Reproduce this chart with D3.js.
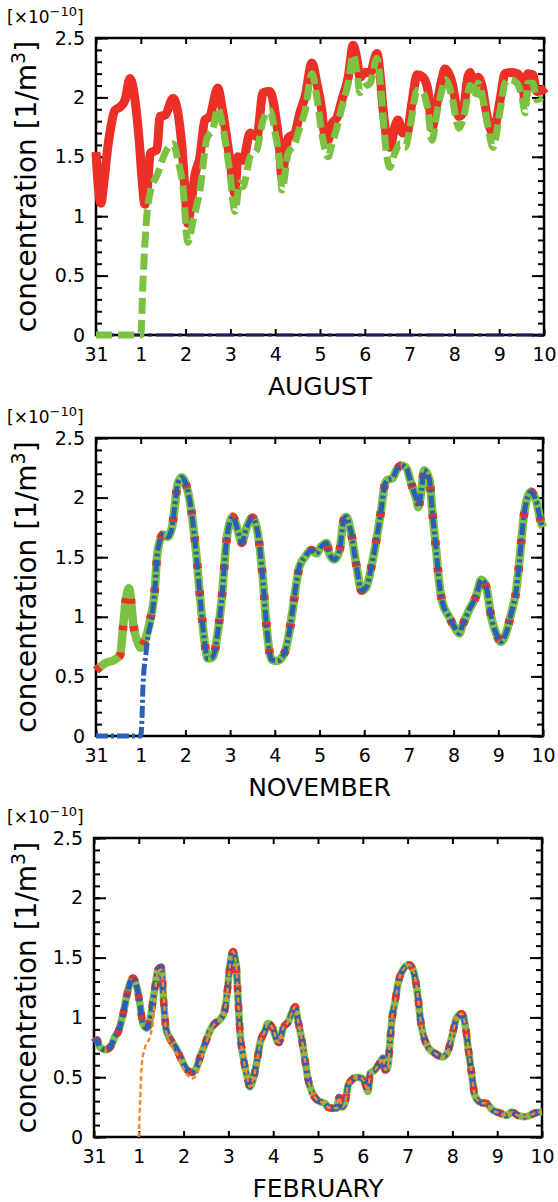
<!DOCTYPE html>
<html lang="en">
  <head>
    <meta charset="utf-8" />
    <title>Concentration</title>
    <style>
      body {
        margin: 0;
        background: #fff;
        font-family: 'DejaVu Sans', sans-serif;
      }
      svg {
        display: block;
      }
    </style>
  </head>
  <body>
    <div class="container"></div>
    <script src="https://cdn.jsdelivr.net/npm/d3@7"></script>
    <script>
      // day offset from the 31st (0) to the 10th (10), value in 1e-10 /m3
      const dayLabels = ['31', '1', '2', '3', '4', '5', '6', '7', '8', '9', '10'];
      const yMajor = [0, 0.5, 1, 1.5, 2, 2.5];
      const months = ['AUGUST', 'NOVEMBER', 'FEBRUARY'];

      const augRed = [
        [0, 1.54], [0.04, 1.3], [0.11, 1.11], [0.18, 1.3], [0.27, 1.6], [0.31, 1.7], [0.42, 1.89],
        [0.54, 1.92], [0.65, 1.98], [0.76, 2.16], [0.87, 1.98], [0.98, 1.56], [1.03, 1.3],
        [1.09, 1.1], [1.16, 1.3], [1.21, 1.53], [1.36, 1.56], [1.43, 1.84], [1.54, 1.85],
        [1.72, 1.99], [1.92, 1.58], [1.99, 1.2], [2.05, 0.94], [2.12, 1.1], [2.21, 1.35],
        [2.32, 1.5], [2.43, 1.81], [2.54, 1.84], [2.72, 2.08], [2.81, 1.92], [2.99, 1.47],
        [3.1, 1.19], [3.17, 1.5], [3.28, 1.47], [3.44, 1.7], [3.59, 1.67], [3.73, 2.04],
        [3.88, 2.05], [4.0, 1.87], [4.09, 1.6], [4.15, 1.32], [4.22, 1.5], [4.29, 1.66],
        [4.44, 1.7], [4.55, 1.87], [4.67, 2.01], [4.82, 2.29], [4.93, 2.12], [5.04, 1.89],
        [5.11, 1.67], [5.18, 1.64], [5.27, 1.78], [5.38, 1.83], [5.49, 1.98], [5.63, 2.17],
        [5.74, 2.44], [5.83, 2.31], [5.89, 2.17], [6.0, 2.21], [6.12, 2.21], [6.27, 2.37],
        [6.34, 2.2], [6.41, 1.89], [6.5, 1.64], [6.56, 1.58], [6.67, 1.75], [6.74, 1.81],
        [6.85, 1.7], [6.94, 1.7], [7.05, 1.95], [7.17, 2.19], [7.3, 2.17], [7.41, 2.06],
        [7.5, 1.74], [7.61, 1.95], [7.72, 2.15], [7.79, 2.24], [7.95, 2.12], [8.06, 1.89],
        [8.1, 1.84], [8.19, 1.87], [8.3, 2.17], [8.35, 2.21], [8.42, 2.09], [8.53, 2.17],
        [8.62, 2.09], [8.73, 1.84], [8.86, 1.7], [9.02, 1.98], [9.13, 2.2], [9.24, 2.21],
        [9.4, 2.2], [9.51, 2.13], [9.58, 1.98], [9.64, 2.2], [9.75, 2.19], [9.84, 2.05],
        [9.96, 2.06], [10.04, 2.08],
      ];
      const augGreen = [
        [0, 0], [1.0, 0], [1.05, 0.46], [1.14, 1.03], [1.21, 1.2], [1.38, 1.36], [1.54, 1.53],
        [1.72, 1.61], [1.83, 1.47], [1.94, 1.25], [2.05, 0.78], [2.17, 0.97], [2.32, 1.22],
        [2.48, 1.66], [2.61, 1.73], [2.72, 1.91], [2.83, 1.75], [2.99, 1.36], [3.1, 1.04],
        [3.21, 1.28], [3.28, 1.25], [3.44, 1.5], [3.59, 1.56], [3.73, 1.81], [3.88, 1.89],
        [4.0, 1.7], [4.11, 1.41], [4.15, 1.22], [4.29, 1.53], [4.44, 1.61], [4.55, 1.75],
        [4.67, 1.89], [4.82, 2.2], [4.93, 2.0], [5.04, 1.7], [5.18, 1.5], [5.27, 1.61],
        [5.38, 1.75], [5.49, 1.92], [5.63, 2.12], [5.74, 2.36], [5.83, 2.2], [5.89, 2.04],
        [6.0, 2.09], [6.12, 2.12], [6.27, 2.33], [6.38, 1.98], [6.45, 1.64], [6.56, 1.41],
        [6.67, 1.53], [6.79, 1.61], [6.9, 1.58], [7.01, 1.75], [7.17, 2.06], [7.3, 2.04],
        [7.41, 1.89], [7.5, 1.64], [7.61, 1.87], [7.72, 2.06], [7.79, 2.15], [7.95, 2.0],
        [8.06, 1.78], [8.1, 1.74], [8.24, 1.89], [8.35, 2.1], [8.46, 2.0], [8.53, 2.12],
        [8.64, 1.98], [8.75, 1.75], [8.86, 1.58], [9.02, 1.89], [9.13, 2.12], [9.24, 2.15],
        [9.4, 2.12], [9.51, 2.0], [9.58, 1.87], [9.64, 2.12], [9.75, 2.12], [9.84, 1.98],
        [9.96, 2.0],
      ];
      const augNavy = [[0, 0], [10, 0]];

      const novMain = [
        [0, 0.55], [0.2, 0.61], [0.42, 0.64], [0.54, 0.68], [0.6, 0.89], [0.67, 1.15],
        [0.74, 1.24], [0.78, 1.15], [0.83, 0.95], [0.92, 0.8], [1.0, 0.74], [1.09, 0.8],
        [1.21, 0.97], [1.32, 1.25], [1.36, 1.48], [1.43, 1.64], [1.5, 1.69], [1.61, 1.67],
        [1.7, 1.75], [1.76, 1.92], [1.83, 2.12], [1.92, 2.17], [2.03, 2.09], [2.14, 1.87],
        [2.25, 1.5], [2.32, 1.2], [2.41, 0.85], [2.5, 0.65], [2.61, 0.66], [2.72, 0.86],
        [2.81, 1.14], [2.92, 1.64], [2.99, 1.79], [3.06, 1.84], [3.17, 1.73], [3.26, 1.62],
        [3.37, 1.75], [3.5, 1.83], [3.62, 1.7], [3.73, 1.33], [3.82, 0.9], [3.93, 0.64],
        [4.06, 0.63], [4.22, 0.7], [4.29, 0.8], [4.4, 1.06], [4.49, 1.3], [4.55, 1.42],
        [4.67, 1.5], [4.82, 1.56], [4.93, 1.53], [5.04, 1.59], [5.16, 1.62], [5.22, 1.53],
        [5.33, 1.48], [5.45, 1.56], [5.54, 1.81], [5.6, 1.84], [5.71, 1.7], [5.83, 1.42],
        [5.94, 1.22], [6.05, 1.25], [6.16, 1.42], [6.27, 1.64], [6.38, 1.9], [6.45, 2.09],
        [6.52, 2.15], [6.63, 2.16], [6.72, 2.23], [6.83, 2.27], [6.94, 2.25], [7.05, 2.12],
        [7.17, 1.98], [7.21, 1.92], [7.28, 2.06], [7.34, 2.23], [7.46, 2.15], [7.52, 1.9],
        [7.61, 1.56], [7.68, 1.28], [7.75, 1.12], [7.9, 1.0], [8.01, 0.92], [8.13, 0.86],
        [8.19, 0.92], [8.35, 1.06], [8.5, 1.17], [8.62, 1.31], [8.73, 1.25], [8.84, 1.0],
        [8.95, 0.86], [9.06, 0.79], [9.17, 0.86], [9.29, 1.03], [9.4, 1.22], [9.46, 1.42],
        [9.58, 1.87], [9.73, 2.05], [9.84, 1.98], [9.96, 1.79], [10.0, 1.75],
      ];
      const novBlueStart = [
        [0, 0], [1.0, 0], [1.03, 0.16], [1.05, 0.41], [1.12, 0.7], [1.16, 0.83], [1.25, 1.0],
      ];

      const febMain = [
        [0, 0.79], [0.07, 0.81], [0.13, 0.75], [0.25, 0.73], [0.36, 0.75], [0.47, 0.84],
        [0.54, 0.88], [0.65, 1.03], [0.76, 1.23], [0.87, 1.33], [0.96, 1.25], [1.03, 1.1],
        [1.09, 0.95], [1.18, 0.91], [1.25, 0.98], [1.32, 1.15], [1.36, 1.25], [1.43, 1.4],
        [1.5, 1.42], [1.56, 1.1], [1.61, 0.9], [1.7, 0.82], [1.85, 0.73], [1.96, 0.64],
        [2.08, 0.56], [2.19, 0.54], [2.3, 0.59], [2.37, 0.67], [2.48, 0.78], [2.59, 0.89],
        [2.7, 0.95], [2.81, 0.98], [2.92, 1.06], [2.97, 1.2], [3.04, 1.45], [3.1, 1.55],
        [3.17, 1.45], [3.21, 1.2], [3.26, 0.87], [3.33, 0.67], [3.42, 0.5], [3.48, 0.42],
        [3.55, 0.48], [3.64, 0.64], [3.71, 0.79], [3.82, 0.89], [3.88, 0.95], [4.0, 0.9],
        [4.08, 0.81], [4.13, 0.79], [4.22, 0.91], [4.33, 0.96], [4.44, 1.06], [4.49, 1.09],
        [4.55, 0.98], [4.64, 0.81], [4.71, 0.64], [4.78, 0.48], [4.87, 0.37], [4.98, 0.31],
        [5.09, 0.29], [5.16, 0.28], [5.22, 0.25], [5.33, 0.24], [5.42, 0.24], [5.47, 0.33],
        [5.54, 0.25], [5.6, 0.28], [5.67, 0.43], [5.76, 0.48], [5.87, 0.5], [5.98, 0.49],
        [6.05, 0.45], [6.12, 0.38], [6.16, 0.53], [6.27, 0.56], [6.38, 0.62], [6.45, 0.66],
        [6.5, 0.56], [6.56, 0.59], [6.61, 0.81], [6.65, 0.98], [6.72, 1.13], [6.79, 1.29],
        [6.9, 1.4], [7.03, 1.44], [7.12, 1.4], [7.23, 1.17], [7.28, 1.0], [7.34, 0.87],
        [7.46, 0.75], [7.61, 0.7], [7.77, 0.67], [7.88, 0.7], [7.99, 0.84], [8.1, 1.0],
        [8.21, 1.03], [8.28, 0.95], [8.35, 0.75], [8.44, 0.5], [8.5, 0.35], [8.62, 0.29],
        [8.77, 0.28], [8.88, 0.23], [9.06, 0.2], [9.22, 0.18], [9.33, 0.21], [9.46, 0.18],
        [9.62, 0.17], [9.73, 0.18], [9.84, 0.2], [10.0, 0.21],
      ];
      const febOrangeStart = [
        [1.0, 0], [1.03, 0.31], [1.07, 0.62], [1.14, 0.75], [1.25, 0.84], [1.32, 0.98],
        [1.36, 1.2], [1.43, 1.38], [1.5, 1.4], [1.56, 1.15], [1.61, 0.88], [1.7, 0.78],
        [1.85, 0.7], [1.96, 0.6], [2.08, 0.52], [2.19, 0.49], [2.3, 0.53], [2.37, 0.62],
        [2.48, 0.76], [2.59, 0.88],
      ];

      const red = '#ec2f27';
      const green = '#7cc242';
      const blue = '#2b5fb4';
      const navy = '#1b1b66';
      const orange = '#ef8a2e';

      const after = (arr, t) => arr.filter((d) => d[0] > t);

      const panels = [
        {
          top: 38, bottom: 335, left: 96, right: 544, month: months[0],
          series: [
            { data: augNavy, color: navy, width: 3, dash: '18,4,4,4' },
            { data: augRed, color: red, width: 9, dash: null },
            { data: augGreen, color: green, width: 7, dash: '16,6' },
          ],
        },
        {
          top: 438, bottom: 736, left: 96, right: 543, month: months[1],
          series: [
            { data: novMain, color: green, width: 8.5, dash: null },
            { data: novMain, color: red, width: 8.5, dash: '5,22' },
            { data: novBlueStart.concat(after(novMain, 1.25)), color: blue, width: 5, dash: '12,3,3,3' },
          ],
        },
        {
          top: 838, bottom: 1137, left: 94, right: 542, month: months[2],
          series: [
            { data: febMain, color: green, width: 7.5, dash: null },
            { data: febMain, color: red, width: 7.5, dash: '7,12' },
            { data: febMain, color: blue, width: 5.5, dash: '10,4,3,4' },
            { data: febOrangeStart.concat(after(febMain, 2.59)), color: orange, width: 2.5, dash: '5,3' },
          ],
        },
      ];

      const W = 558;
      const H = 1202;
      const svg = d3
        .select('div.container')
        .append('svg')
        .attr('width', W)
        .attr('height', H);

      const yMinor = d3.range(0, 2.5001, 0.1).map((v) => +v.toFixed(1));

      panels.forEach((p) => {
        const x = d3.scaleLinear().domain([0, 10]).range([p.left, p.right]);
        const y = d3.scaleLinear().domain([0, 2.5]).range([p.bottom, p.top]);
        const g = svg.append('g');

        const axisStyle = (sel) => {
          sel.select('.domain').remove();
          sel.selectAll('line').attr('stroke', '#000').attr('stroke-width', 2);
          sel
            .selectAll('text')
            .attr('fill', '#000')
            .style('font-family', "'DejaVu Sans', sans-serif")
            .style('font-size', '19px');
        };

        // bottom: ticks inward + day labels
        g.append('g')
          .attr('transform', `translate(0,${p.bottom})`)
          .call(
            d3
              .axisBottom(x)
              .tickValues(d3.range(0, 11))
              .tickSize(-6)
              .tickPadding(8)
              .tickFormat((d) => dayLabels[d]),
          )
          .call(axisStyle);
        g.selectAll('text').attr('dy', '0.95em');

        g.append('g')
          .attr('transform', `translate(0,${p.top})`)
          .call(d3.axisTop(x).tickValues(d3.range(0, 11)).tickSize(-6).tickFormat(''))
          .call(axisStyle);

        // left: minor + major
        g.append('g')
          .attr('transform', `translate(${p.left},0)`)
          .call(d3.axisLeft(y).tickValues(yMinor).tickSize(-6).tickFormat(''))
          .call(axisStyle);
        g.append('g')
          .attr('transform', `translate(${p.left},0)`)
          .call(
            d3
              .axisLeft(y)
              .tickValues(yMajor)
              .tickSize(-12)
              .tickPadding(11)
              .tickFormat((d) => (d === 0 ? '0' : String(d))),
          )
          .call(axisStyle);

        g.append('g')
          .attr('transform', `translate(${p.right},0)`)
          .call(d3.axisRight(y).tickValues(yMinor).tickSize(-6).tickFormat(''))
          .call(axisStyle);
        g.append('g')
          .attr('transform', `translate(${p.right},0)`)
          .call(d3.axisRight(y).tickValues(yMajor).tickSize(-12).tickFormat(''))
          .call(axisStyle);

        // frame
        g.append('rect')
          .attr('x', p.left)
          .attr('y', p.top)
          .attr('width', p.right - p.left)
          .attr('height', p.bottom - p.top)
          .attr('fill', 'none')
          .attr('stroke', '#000')
          .attr('stroke-width', 2.5);

        // month
        g.append('text')
          .attr('x', (p.left + p.right) / 2)
          .attr('y', p.bottom + 60)
          .attr('text-anchor', 'middle')
          .style('font-size', '25px')
          .text(p.month);

        // exponent
        const ex = g
          .append('text')
          .attr('x', 7)
          .attr('y', p.top - 15)
          .style('font-size', '17px');
        ex.append('tspan').text('[×10');
        ex.append('tspan')
          .attr('dy', -7)
          .style('font-size', '13px')
          .text('−10');
        ex.append('tspan').attr('dy', 7).text(']');

        // y title
        const yt = g
          .append('text')
          .attr(
            'transform',
            `translate(36,${(p.top + p.bottom) / 2}) rotate(-90)`,
          )
          .attr('text-anchor', 'middle')
          .style('font-size', '28px');
        yt.append('tspan').text('concentration [1/m');
        yt.append('tspan').attr('dy', -11).style('font-size', '19px').text('3');
        yt.append('tspan').attr('dy', 11).text(']');

        const line = d3
          .line()
          .x((d) => x(d[0]))
          .y((d) => y(d[1]))
          .curve(d3.curveMonotoneX);

        p.series.forEach((s) => {
          g.append('path')
            .datum(s.data)
            .attr('d', line)
            .attr('fill', 'none')
            .attr('stroke', s.color)
            .attr('stroke-width', s.width)
            .attr('stroke-linejoin', 'round')
            .attr('stroke-dasharray', s.dash);
        });
      });
    </script>
  </body>
</html>
